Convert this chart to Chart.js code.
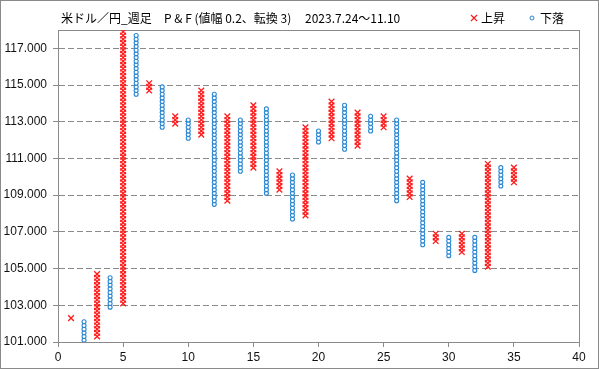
<!DOCTYPE html>
<html><head><meta charset="utf-8">
<script src="https://cdn.jsdelivr.net/npm/chart.js@4"></script>
<style>html,body{margin:0;padding:0;background:#fff}#wrap{width:599px;height:369px;position:relative}</style>
</head><body><div id="wrap"><canvas id="c" width="599" height="369"></canvas></div>
<script>
// ---- data ----
const columnNumbers = [1,2,3,4,5,6,7,8,9,10,11,12,13,14,15,16,17,18,19,20,21,22,23,24,25,26,27,28,29,30,31,32,33,34,35];
const columnTypes   = ['X','O','X','O','X','O','X','O','X','O','X','O','X','O','X','O','X','O','X','O','X','O','X','O','X','O','X','O','X','O','X','O','X','O','X'];
const columnLows    = [102.3,101.1,101.3,102.9,103.1,114.5,114.7,112.7,112.9,112.1,112.3,108.5,108.7,110.3,110.5,109.1,109.3,107.7,107.9,111.9,112.1,111.5,111.7,112.5,112.7,108.7,108.9,106.3,106.5,105.7,105.9,104.9,105.1,109.5,109.7];
const columnHighs   = [102.3,102.1,104.7,104.5,117.9,117.7,115.1,114.9,113.3,113.1,114.7,114.5,113.3,113.1,113.9,113.7,110.3,110.1,112.7,112.5,114.1,113.9,113.5,113.3,113.3,113.1,109.9,109.7,106.9,106.7,106.9,106.7,110.7,110.5,110.5];
const boxSize = 0.2;
const xTickValues = [0,5,10,15,20,25,30,35,40];
const yTickValues = [101,103,105,107,109,111,113,115,117];
const seriesLabels = ['上昇','下落'];
const titleMain = '米ドル／円_週足';
const titleSub = 'P & F (値幅 0.2、転換 3)';
const titlePeriod = '2023.7.24〜11.10';

// ---- build boxes ----
const upPoints = [], downPoints = [];
columnNumbers.forEach((col, i) => {
  const n = Math.round((columnHighs[i] - columnLows[i]) / boxSize);
  for (let k = 0; k <= n; k++) {
    const p = {x: col, y: +(columnLows[i] + k * boxSize).toFixed(1)};
    (columnTypes[i] === 'X' ? upPoints : downPoints).push(p);
  }
});

const RED = '#ff1a1a', BLUE = '#2a86d2', GRAY = '#8a8a8a';
const CJK = '"Noto Sans CJK JP", "Noto Sans", sans-serif';

const framePlugin = {
  id: 'frame',
  beforeDraw(chart) {
    const ctx = chart.ctx;
    ctx.save();
    ctx.fillStyle = '#fff';
    ctx.fillRect(0, 0, chart.width, chart.height);
    ctx.restore();
  },
  beforeDatasetsDraw(chart) {
    const {ctx, chartArea: a} = chart;
    ctx.save();
    ctx.strokeStyle = GRAY; ctx.lineWidth = 1;
    ctx.strokeRect(Math.round(a.left) + 0.5, Math.round(a.top) + 0.5, Math.round(a.right - a.left), Math.round(a.bottom - a.top));
    ctx.restore();
  },
  afterDraw(chart) {
    const ctx = chart.ctx;
    ctx.save();
    ctx.strokeStyle = GRAY; ctx.lineWidth = 1;
    ctx.strokeRect(0.5, 0.5, chart.width - 1, chart.height - 1);
    ctx.fillStyle = '#000';
    ctx.textBaseline = 'middle';
    ctx.font = '12px ' + CJK;
    ctx.fillText(titleMain, 61, 18);
    ctx.fillText(titleSub, 164, 18);
    ctx.fillText(titlePeriod, 305, 18);
    // legend
    ctx.strokeStyle = RED; ctx.lineWidth = 1.2;
    ctx.beginPath();
    ctx.moveTo(471, 15); ctx.lineTo(477, 21);
    ctx.moveTo(477, 15); ctx.lineTo(471, 21);
    ctx.stroke();
    ctx.fillText(seriesLabels[0], 481, 18);
    ctx.strokeStyle = BLUE; ctx.lineWidth = 1;
    ctx.fillStyle = '#fff';
    ctx.beginPath(); ctx.arc(532, 18, 2, 0, Math.PI * 2); ctx.fill(); ctx.stroke();
    ctx.fillStyle = '#000';
    ctx.fillText(seriesLabels[1], 540, 18);
    ctx.restore();
  }
};

new Chart(document.getElementById('c'), {
  type: 'scatter',
  data: {
    datasets: [
      {label: seriesLabels[0], data: upPoints, pointStyle: 'crossRot', pointRadius: 4, pointHoverRadius: 4,
       borderColor: RED, backgroundColor: 'rgba(0,0,0,0)', pointBorderWidth: 1.3},
      {label: seriesLabels[1], data: downPoints, pointStyle: 'circle', pointRadius: 2, pointHoverRadius: 2,
       borderColor: BLUE, backgroundColor: '#ffffff', pointBorderWidth: 1.1}
    ]
  },
  options: {
    responsive: false,
    animation: false,
    events: [],
    layout: {padding: {left: 0, right: 20, top: 30, bottom: 0}},
    plugins: {legend: {display: false}, tooltip: {enabled: false}, title: {display: false}},
    scales: {
      x: {
        type: 'linear', min: 0, max: 40,
        afterBuildTicks: s => { s.ticks = xTickValues.map(v => ({value: v})); },
        afterFit: s => { s.height = 27; },
        ticks: {font: {size: 12, family: '"Liberation Sans", Arial, sans-serif'}, color: '#111', padding: 3, maxRotation: 0},
        grid: {drawOnChartArea: false, drawTicks: true, tickLength: 5, tickColor: GRAY, color: GRAY},
        border: {display: true, color: GRAY}
      },
      y: {
        type: 'linear', min: 101, max: 118,
        afterBuildTicks: s => { s.ticks = yTickValues.map(v => ({value: v})); },
        afterFit: s => { s.width = 58; },
        ticks: {font: {size: 12, family: '"Liberation Sans", Arial, sans-serif'}, color: '#111', padding: 6,
                callback: v => Number(v).toFixed(3)},
        grid: {color: GRAY, tickColor: GRAY, tickLength: 5, drawTicks: true},
        border: {display: true, color: GRAY, dash: [6, 3]}
      }
    }
  },
  plugins: [framePlugin]
});
</script>
</body></html>
